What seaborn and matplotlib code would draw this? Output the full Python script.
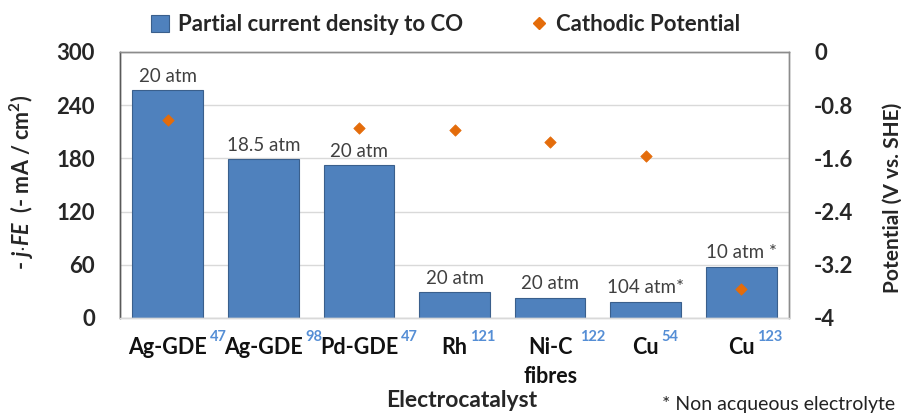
import numpy as np
import pandas as pd
import matplotlib
matplotlib.use('Agg')
import matplotlib.pyplot as plt
import seaborn as sns
from matplotlib.patches import Patch
from matplotlib.lines import Line2D

# data
catalysts = ['Ag-GDE', 'Ag-GDE', 'Pd-GDE', 'Rh', 'Ni-C\nfibres', 'Cu', 'Cu']
refs = ['47', '98', '47', '121', '122', '54', '123']
current = [257, 179, 172, 29, 23, 18, 58]          # -j*FE, mA/cm2
potential = [-1.03, np.nan, -1.15, -1.17, -1.36, -1.56, -3.56]  # V vs SHE
pressures = ['20 atm', '18.5 atm', '20 atm', '20 atm', '20 atm', '104 atm*', '10 atm *']
left_ticks = [0, 60, 120, 180, 240, 300]
right_ticks = [0, -0.8, -1.6, -2.4, -3.2, -4]
right_ticklabels = ['0', '-0.8', '-1.6', '-2.4', '-3.2', '-4']

bar_blue = '#4F81BD'
orange = '#E46C0A'
ref_blue = '#558ED5'

sns.set_theme(style='white')
plt.rcParams['font.family'] = ['Lato', 'DejaVu Sans']
plt.rcParams['axes.unicode_minus'] = False
plt.rcParams['mathtext.fontset'] = 'custom'
plt.rcParams['mathtext.rm'] = 'Lato:bold'
plt.rcParams['mathtext.it'] = 'Lato:bold:italic'
plt.rcParams['mathtext.bf'] = 'Lato:bold'

df = pd.DataFrame({'x': range(len(catalysts)), 'current': current, 'potential': potential})

fig = plt.figure(figsize=(9.01, 4.16), dpi=100)
ax = fig.add_axes([0.1332, 0.2356, 0.7425, 0.6394])

sns.barplot(data=df, x='x', y='current', color=bar_blue, saturation=1, width=0.74,
            edgecolor='#3A5F8C', linewidth=0.8, ax=ax, zorder=2)
ax.bar_label(ax.containers[0], labels=pressures, padding=4, fontsize=13.5, color='#404040')

ax.set_xlim(-0.5, len(catalysts) - 0.5)
ax.set_ylim(0, 300)
ax.set_yticks(left_ticks)
ax.set_yticklabels([str(t) for t in left_ticks], fontsize=16, fontweight='bold')
ax.yaxis.grid(True, color='#D9D9D9', linewidth=1, zorder=0)
ax.set_axisbelow(True)
ax.tick_params(axis='y', length=0, pad=18)
ax.set_xticks(range(len(catalysts)))
ax.set_xticklabels(catalysts, fontsize=15.5, fontweight='bold', color='#111111', linespacing=1.45)
ax.tick_params(axis='x', length=0, pad=14)
ax.set_xlabel('Electrocatalyst', fontsize=16.5, fontweight='bold')
ax.xaxis.set_label_coords(0.51, -0.27)
ax.set_ylabel('- $\\mathit{j}$$\\cdot$$\\mathit{FE}$  (- mA / cm$^{2}$)', fontsize=15.5, fontweight='bold')
ax.yaxis.set_label_coords(-0.125, 0.51)

ax2 = ax.twinx()
sns.scatterplot(data=df, x='x', y='potential', marker='D', s=34, color=orange,
                edgecolor=orange, linewidth=0.5, ax=ax2, zorder=3)
ax2.set_ylim(-4, 0)
ax2.set_yticks(right_ticks)
ax2.set_yticklabels(right_ticklabels, fontsize=16, fontweight='bold')
ax2.tick_params(axis='y', length=0, pad=18)
ax2.set_ylabel('Potential (V vs. SHE)', fontsize=15, fontweight='bold')
ax2.yaxis.set_label_coords(1.14, 0.45)

for a in (ax, ax2):
    a.spines['top'].set_color('#8C8C8C')
    a.spines['right'].set_color('#8C8C8C')
    a.spines['left'].set_color('#595959')
    a.spines['bottom'].set_color('#D9D9D9')
    for s in a.spines.values():
        s.set_linewidth(1)

# blue reference numbers next to each catalyst name
for lab, ref in zip(ax.get_xticklabels(), refs):
    ax.annotate(ref, xy=(1, 1), xycoords=lab, xytext=(2, 0), textcoords='offset points',
                ha='left', va='center', fontsize=10.5, fontweight='bold', color=ref_blue)

handles = [Patch(facecolor=bar_blue, edgecolor='#3A5F8C', linewidth=0.8),
           Line2D([], [], marker='D', color=orange, linestyle='none', markersize=6)]
fig.legend(handles, ['Partial current density to CO', 'Cathodic Potential'],
           loc='center', bbox_to_anchor=(0.495, 0.94), ncol=2, frameon=False,
           prop={'size': 16, 'weight': 'bold'}, columnspacing=3.0,
           handlelength=0.8, handleheight=0.8, handletextpad=0.4)

fig.text(0.735, 0.047, '* Non acqueous electrolyte', fontsize=14, va='top', ha='left', color='#222222')

fig.savefig('out.png', dpi=100)
